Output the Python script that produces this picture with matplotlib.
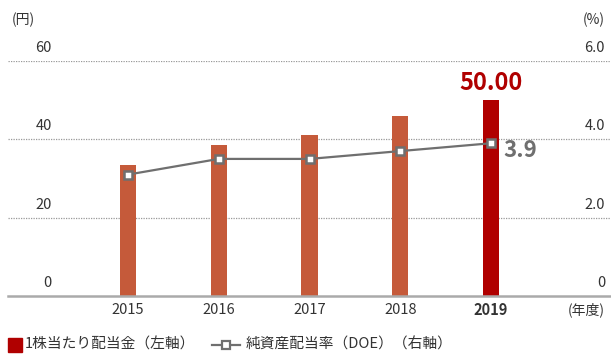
import matplotlib.pyplot as plt
import matplotlib.patches as mpatches
from matplotlib.lines import Line2D

plt.rcParams['font.family'] = ['Noto Sans CJK JP', 'DejaVu Sans']

years = ['2015', '2016', '2017', '2018', '2019']
dividend = [33.5, 38.5, 41.0, 46.0, 50.00]   # 円, left axis
doe = [3.1, 3.5, 3.5, 3.7, 3.9]              # %, right axis
left_ticks = [0, 20, 40, 60]
right_ticks = ['0', '2.0', '4.0', '6.0']

bar_color = '#c55a3a'
last_color = '#b00000'
line_color = '#6f6f6f'
text_color = '#333333'

W, H = 611, 354
fig = plt.figure(figsize=(W / 100, H / 100), dpi=100)

# axes box in pixel terms: x 8..611, y 61 (=60) .. 296 (=0)
ax = fig.add_axes([8 / W, (H - 296) / H, (611 - 8) / W, (296 - 61) / H])
ax.set_ylim(0, 60)
x = list(range(len(years)))
step = 90.75
ax.set_xlim((8 - 128) / step, (611 - 128) / step)

colors = [bar_color] * (len(years) - 1) + [last_color]
ax.bar(x, dividend, width=0.18, color=colors, zorder=2)

for v in left_ticks[1:]:
    ax.axhline(v, color='#999999', lw=0.9, ls=(0, (1, 1)), zorder=1)
ax.axhline(0, color='#aaaaaa', lw=1.8, zorder=3, clip_on=False)

for s in ax.spines.values():
    s.set_visible(False)
ax.set_xticks([])
ax.set_yticks([])

# tick labels sit just above their grid lines
up = 13 / 3.917
for v, r in zip(left_ticks, right_ticks):
    ax.text((52 - 8) / 603, v + up, str(v), transform=ax.get_yaxis_transform(),
            ha='right', va='center', fontsize=10.5, color=text_color)
    ax.text((605 - 8) / 603, v + up, r, transform=ax.get_yaxis_transform(),
            ha='right', va='center', fontsize=10.5, color=text_color)

ax.text((12 - 8) / 603, 70.5, '(円)', transform=ax.get_yaxis_transform(),
        ha='left', va='center', fontsize=10, color=text_color, clip_on=False)
ax.text((605 - 8) / 603, 70.5, '(%)', transform=ax.get_yaxis_transform(),
        ha='right', va='center', fontsize=10, color=text_color, clip_on=False)

for i, y in enumerate(years):
    ax.text(i, -14 / 3.917, y, ha='center', va='center', fontsize=10.5,
            color=text_color, fontweight='bold' if i == len(years) - 1 else 'normal',
            clip_on=False)
ax.text((605 - 8) / 603, -14 / 3.917, '(年度)', transform=ax.get_yaxis_transform(),
        ha='right', va='center', fontsize=10, color=text_color, clip_on=False)

ax.annotate(f'{dividend[-1]:.2f}', (x[-1], dividend[-1]), xytext=(0, 4),
            textcoords='offset points', ha='center', va='bottom',
            fontsize=17, fontweight='bold', color=last_color)

ax2 = ax.twinx()
ax2.set_ylim(0, 6)
ax2.set_xlim(ax.get_xlim())
ax2.plot(x, doe, color=line_color, lw=1.6, marker='s', markersize=6,
         markerfacecolor='white', markeredgecolor=line_color, markeredgewidth=1.8,
         zorder=4)
ax2.annotate(f'{doe[-1]}', (x[-1], doe[-1]), xytext=(9, -5),
             textcoords='offset points', ha='left', va='center',
             fontsize=16, fontweight='bold', color=line_color)
for s in ax2.spines.values():
    s.set_visible(False)
ax2.set_yticks([])

# legend along the bottom edge
fig.patches.append(mpatches.Rectangle((8 / W, (H - 352) / H), 14 / W, 14 / H,
                                      transform=fig.transFigure, color=last_color))
fig.text(25 / W, (H - 345) / H, '1株当たり配当金（左軸）', ha='left', va='center',
         fontsize=10.6, color=text_color)
fig.lines.append(Line2D([212 / W, 240 / W], [(H - 345) / H] * 2,
                        transform=fig.transFigure, color=line_color, lw=1.6))
fig.lines.append(Line2D([226 / W], [(H - 345) / H], transform=fig.transFigure,
                        marker='s', markersize=5.5, markerfacecolor='white',
                        markeredgecolor=line_color, markeredgewidth=1.6, lw=0))
fig.text(246 / W, (H - 345) / H, '純資産配当率（DOE）（右軸）', ha='left', va='center',
         fontsize=10.6, color=text_color)

fig.savefig('out.png', dpi=100)
